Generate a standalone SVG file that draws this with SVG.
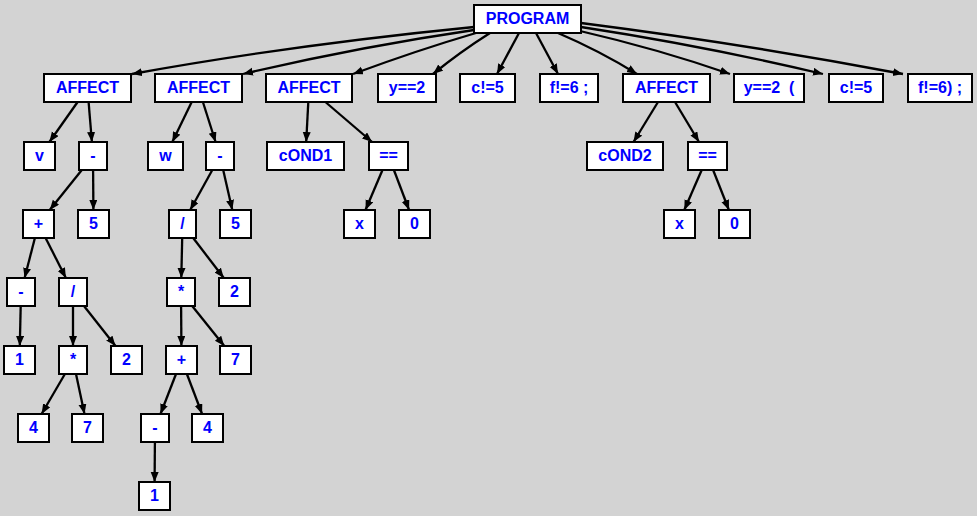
<svg xmlns="http://www.w3.org/2000/svg" width="977" height="516" viewBox="0 0 977 516">
<defs>
<marker id="ah" markerUnits="userSpaceOnUse" markerWidth="11" markerHeight="9" refX="10" refY="4" orient="auto">
<path d="M0,0 L10,4 L0,8 z" fill="#000"/>
</marker>
<style>
.n rect{fill:#fff;stroke:#000;stroke-width:2}
.n text{font-family:"Liberation Sans",Arial,sans-serif;font-weight:bold;font-size:16px;fill:#0000ff;text-anchor:middle}
#edges path{fill:none;stroke:#000;stroke-width:2.3;marker-end:url(#ah)}
</style>
</defs>
<rect width="977" height="516" fill="#d3d3d3"/>
<g id="edges">
<path d="M474,27 Q292,45 132,74"/>
<path d="M474,30 Q358,47 243,74"/>
<path d="M476,33 Q418,50 353,74"/>
<path d="M490,33 Q460,52 433,74"/>
<path d="M519,33 L497,74"/>
<path d="M536,33 L558,74"/>
<path d="M558,33 Q600,51 637,74"/>
<path d="M580,31 Q658,49 730,74"/>
<path d="M581,27 Q705,46 823,74"/>
<path d="M581,23 Q745,44 903,74"/>
<path d="M77.6,102 L49.4,142"/>
<path d="M88.6,102 L91.9,142"/>
<path d="M81.8,170 L49.7,210"/>
<path d="M93.1,170 L93.4,210"/>
<path d="M34.9,238 L24.6,278"/>
<path d="M45.6,238 L65.9,278"/>
<path d="M20.7,306 L19.8,346"/>
<path d="M73,306 L73,346"/>
<path d="M84,306 L115.5,346"/>
<path d="M64.9,374 L41.6,414"/>
<path d="M76,374 L84.5,414"/>
<path d="M191.7,102 L172.3,142"/>
<path d="M202.9,102 L215.6,142"/>
<path d="M212.3,170 L190.2,210"/>
<path d="M223.2,170 L232.3,210"/>
<path d="M182.2,238 L181.3,278"/>
<path d="M193.2,238 L223.8,278"/>
<path d="M181.1,306 L181.4,346"/>
<path d="M192.2,306 L224.3,346"/>
<path d="M176,374 L160.5,414"/>
<path d="M186.9,374 L202.1,414"/>
<path d="M154.9,442 L154.6,482"/>
<path d="M308.3,102 L306.2,142"/>
<path d="M325.4,102 L372.1,142"/>
<path d="M382.5,170 L365.5,210"/>
<path d="M393.9,170 L409.1,210"/>
<path d="M658,102 L633.5,142"/>
<path d="M675,102 L699,142"/>
<path d="M701.7,170 L684.3,210"/>
<path d="M713.1,170 L728.9,210"/>
</g>
<g id="program" class="n"><rect x="474" y="5" width="107" height="28"/><text x="527.5" y="24">PROGRAM</text></g>
<g id="affect1" class="n"><rect x="44" y="74" width="87" height="28"/><text x="87.5" y="93">AFFECT</text></g>
<g id="affect2" class="n"><rect x="155" y="74" width="87" height="28"/><text x="198.5" y="93">AFFECT</text></g>
<g id="affect3" class="n"><rect x="266" y="74" width="86" height="28"/><text x="309" y="93">AFFECT</text></g>
<g id="y2a" class="n"><rect x="378" y="74" width="58" height="28"/><text x="407" y="93">y==2</text></g>
<g id="c5a" class="n"><rect x="460" y="74" width="55" height="28"/><text x="487.5" y="93">c!=5</text></g>
<g id="f6a" class="n"><rect x="540" y="74" width="58" height="28"/><text x="569" y="93">f!=6 ;</text></g>
<g id="affect4" class="n"><rect x="623" y="74" width="87" height="28"/><text x="666.5" y="93">AFFECT</text></g>
<g id="y2b" class="n"><rect x="734" y="74" width="70" height="28"/><text x="769" y="93" xml:space="preserve">y==2  (</text></g>
<g id="c5b" class="n"><rect x="829" y="74" width="54" height="28"/><text x="856" y="93">c!=5</text></g>
<g id="f6b" class="n"><rect x="908" y="74" width="64" height="28"/><text x="940" y="93">f!=6) ;</text></g>
<g id="v" class="n"><rect x="24" y="142" width="31" height="28"/><text x="39.5" y="161">v</text></g>
<g id="minus1" class="n"><rect x="79" y="142" width="28" height="28"/><text x="93" y="161">-</text></g>
<g id="w" class="n"><rect x="148" y="142" width="35" height="28"/><text x="165.5" y="161">w</text></g>
<g id="minus2" class="n"><rect x="206" y="142" width="28" height="28"/><text x="220" y="161">-</text></g>
<g id="cond1" class="n"><rect x="267" y="142" width="77" height="28"/><text x="305.5" y="161">cOND1</text></g>
<g id="eq1" class="n"><rect x="369" y="142" width="39" height="28"/><text x="388.5" y="161">==</text></g>
<g id="cond2" class="n"><rect x="587" y="142" width="76" height="28"/><text x="625" y="161">cOND2</text></g>
<g id="eq2" class="n"><rect x="688" y="142" width="39" height="28"/><text x="707.5" y="161">==</text></g>
<g id="plus1" class="n"><rect x="23" y="210" width="31" height="28"/><text x="38.5" y="229">+</text></g>
<g id="five1" class="n"><rect x="78" y="210" width="31" height="28"/><text x="93.5" y="229">5</text></g>
<g id="div2" class="n"><rect x="169" y="210" width="27" height="28"/><text x="182.5" y="229">/</text></g>
<g id="five2" class="n"><rect x="220" y="210" width="31" height="28"/><text x="235.5" y="229">5</text></g>
<g id="x1" class="n"><rect x="344" y="210" width="31" height="28"/><text x="359.5" y="229">x</text></g>
<g id="zero1" class="n"><rect x="399" y="210" width="31" height="28"/><text x="414.5" y="229">0</text></g>
<g id="x2" class="n"><rect x="664" y="210" width="31" height="28"/><text x="679.5" y="229">x</text></g>
<g id="zero2" class="n"><rect x="719" y="210" width="31" height="28"/><text x="734.5" y="229">0</text></g>
<g id="minus3" class="n"><rect x="7" y="278" width="28" height="28"/><text x="21" y="297">-</text></g>
<g id="div1" class="n"><rect x="59" y="278" width="28" height="28"/><text x="73" y="297">/</text></g>
<g id="mul2" class="n"><rect x="167" y="278" width="28" height="28"/><text x="181" y="297">*</text></g>
<g id="two2" class="n"><rect x="219" y="278" width="31" height="28"/><text x="234.5" y="297">2</text></g>
<g id="one1" class="n"><rect x="4" y="346" width="31" height="28"/><text x="19.5" y="365">1</text></g>
<g id="mul1" class="n"><rect x="59" y="346" width="28" height="28"/><text x="73" y="365">*</text></g>
<g id="two1" class="n"><rect x="111" y="346" width="31" height="28"/><text x="126.5" y="365">2</text></g>
<g id="plus2" class="n"><rect x="166" y="346" width="31" height="28"/><text x="181.5" y="365">+</text></g>
<g id="seven2" class="n"><rect x="220" y="346" width="31" height="28"/><text x="235.5" y="365">7</text></g>
<g id="four1" class="n"><rect x="18" y="414" width="31" height="28"/><text x="33.5" y="433">4</text></g>
<g id="seven1" class="n"><rect x="72" y="414" width="31" height="28"/><text x="87.5" y="433">7</text></g>
<g id="minus4" class="n"><rect x="141" y="414" width="28" height="28"/><text x="155" y="433">-</text></g>
<g id="four2" class="n"><rect x="192" y="414" width="31" height="28"/><text x="207.5" y="433">4</text></g>
<g id="one2" class="n"><rect x="139" y="482" width="31" height="28"/><text x="154.5" y="501">1</text></g>
</svg>
